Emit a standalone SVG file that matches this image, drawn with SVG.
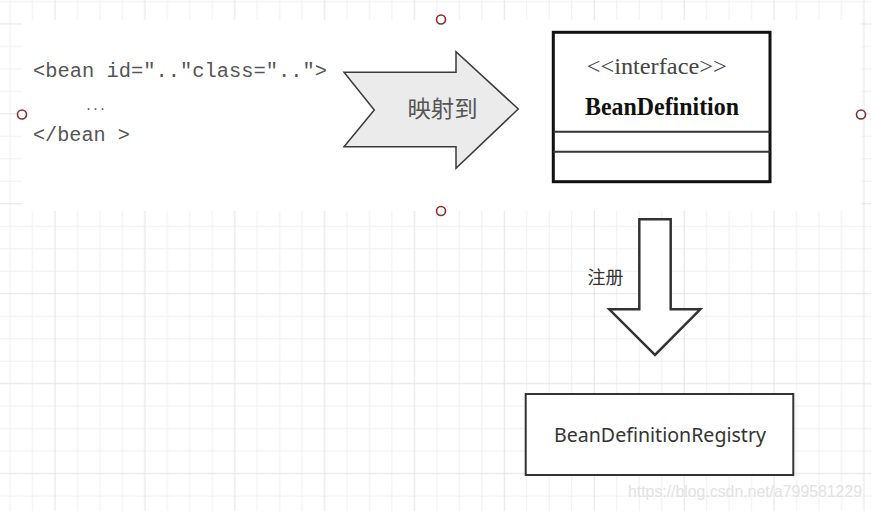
<svg xmlns="http://www.w3.org/2000/svg" width="871" height="511" viewBox="0 0 871 511">
<style>
.minor{stroke:#efefef;stroke-width:1;fill:none}
.major{stroke:#e2e2e2;stroke-width:1;fill:none}
.code{font-family:"Liberation Mono",monospace;font-size:19.6px;fill:#555}
.handle{fill:#fff;stroke:#8b2c2c;stroke-width:1.6}
.shape{stroke:#333;stroke-width:2.5;fill:#fff}
</style>
<defs>
<pattern id="grid" patternUnits="userSpaceOnUse" x="-1.235" y="-9.635" width="89.88" height="89.88">
<path class="minor" d="M11.235 0V89.88M33.705 0V89.88M78.645 0V89.88M0 11.235H89.88M0 56.175H89.88M0 78.645H89.88"/>
<path class="major" d="M56.175 0V89.88M0 33.705H89.88"/>
</pattern>
</defs>
<rect width="871" height="511" fill="#fff"/>
<rect width="871" height="511" fill="url(#grid)"/>
<rect x="22" y="20" width="839" height="191" fill="#fff"/>

<g id="xml-code">
<text class="code" x="33" y="77" textLength="294" lengthAdjust="spacingAndGlyphs">&lt;bean id=".."class=".."&gt;</text>
<text x="85" y="110" textLength="21" lengthAdjust="spacingAndGlyphs" style="font-family:'Liberation Mono',monospace;font-size:12px;fill:#555">...</text>
<text class="code" x="33" y="141" textLength="97" lengthAdjust="spacingAndGlyphs">&lt;/bean &gt;</text>
</g>

<g id="map-arrow">
<polygon points="344,72.3 456,72.3 456,51.7 518.3,109 456,168.3 456,146.7 344,146.7 374.3,110" fill="#ebebeb" stroke="#3a3a3a" stroke-width="1.5" stroke-linejoin="miter"/>
<text x="442.5" y="117" text-anchor="middle" textLength="70" lengthAdjust="spacingAndGlyphs" style="font-family:'Noto Sans CJK SC','Noto Sans CJK JP',sans-serif;font-size:23px;fill:#555">映射到</text>
</g>

<g id="bean-definition">
<rect x="553.3" y="32.3" width="216.7" height="149.4" fill="#fff" stroke="#111" stroke-width="3"/>
<line x1="553.3" y1="131.7" x2="770" y2="131.7" stroke="#333" stroke-width="2"/>
<line x1="553.3" y1="151.7" x2="770" y2="151.7" stroke="#333" stroke-width="2"/>
<text x="586.7" y="74" textLength="140" lengthAdjust="spacingAndGlyphs" style="font-family:'Liberation Serif',serif;font-size:23px;fill:#444">&lt;&lt;interface&gt;&gt;</text>
<text x="585" y="115" textLength="154" lengthAdjust="spacingAndGlyphs" style="font-family:'Liberation Serif',serif;font-size:26px;font-weight:bold;fill:#111">BeanDefinition</text>
</g>

<g id="connectors">
<polygon class="shape" points="639.3,219.3 670.7,219.3 670.7,309.3 700.3,309.3 655,355 609.3,309.3 639.3,309.3"/>
<text x="587.5" y="284" style="font-family:'Noto Sans CJK SC',sans-serif;font-size:18px;fill:#333">注册</text>
</g>

<g id="registry">
<rect x="525.7" y="394" width="267.6" height="81" fill="#fff" stroke="#333" stroke-width="2"/>
<text x="554" y="441.5" textLength="212" lengthAdjust="spacingAndGlyphs" style="font-family:'Noto Sans',sans-serif;font-size:20px;fill:#333">BeanDefinitionRegistry</text>
</g>

<text x="628" y="497" textLength="234" lengthAdjust="spacingAndGlyphs" style="font-family:'Liberation Sans',sans-serif;font-size:16px;fill:#e2e2e2">https://blog.csdn.net/a799581229</text>

<g id="handles">
<circle class="handle" cx="441" cy="19.5" r="4.5"/>
<circle class="handle" cx="22" cy="114.5" r="4.5"/>
<circle class="handle" cx="861" cy="114.5" r="4.5"/>
<circle class="handle" cx="441" cy="211" r="4.5"/>
</g>
</svg>
